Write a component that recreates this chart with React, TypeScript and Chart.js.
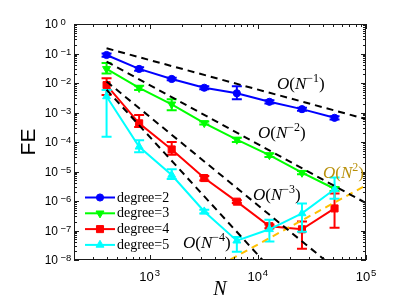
import React, { useEffect, useRef } from 'react';
import { Chart, registerables } from 'chart.js';

Chart.register(...registerables);

// ---------- data ----------
const sizes = [400, 800, 1600, 3200, 6400, 12800, 25600, 51200];

const deg2 = [0.089, 0.030, 0.0137, 0.0069, 0.0045, 0.0023, 0.0013, 6.6e-4];
const deg2Lo = [0.078, 0.026, 0.0124, 0.0061, 0.0028, 0.0020, 0.00115, 5.8e-4];
const deg2Hi = [0.100, 0.034, 0.0151, 0.0078, 0.0078, 0.0026, 0.00145, 7.4e-4];

const deg3 = [0.030, 0.0068, 0.0019, 4.4e-4, 1.2e-4, 3.6e-5, 9.1e-6, 2.6e-6];
const deg3Lo = [0.021, 0.0058, 0.0012, 3.9e-4, 1.0e-4, 3.1e-5, 8.0e-6, 2.2e-6];
const deg3Hi = [0.048, 0.0080, 0.0028, 5.0e-4, 1.4e-4, 4.1e-5, 1.03e-5, 3.0e-6];

const deg4 = [0.0085, 4.3e-4, 5.6e-5, 6.0e-6, 9.5e-7, 1.4e-7, 1.1e-7, 5.6e-7];
const deg4Lo = [0.0039, 3.2e-4, 3.7e-5, 5.0e-6, 8.5e-7, 1.2e-7, 2.4e-8, 1.25e-7];
const deg4Hi = [0.0144, 8.3e-4, 1.0e-4, 7.0e-6, 1.05e-6, 1.6e-7, 2.0e-7, 1.8e-6];

const deg5 = [0.0035, 6.9e-5, 7.6e-6, 4.4e-7, 4.5e-8, 1.1e-7, 3.8e-7, 2.5e-6];
const deg5Lo = [1.5e-4, 4.5e-5, 5.6e-6, 3.8e-7, 1.9e-8, 4.2e-8, 9.1e-8, 1.2e-6];
const deg5Hi = [0.0058, 1.15e-4, 1.2e-5, 5.1e-7, 6.0e-8, 2.3e-7, 8.3e-7, 6.3e-6];

// reference slopes (two end points each)
const refN = [400, 100000];
const refOrder1 = [0.15, 6.0e-4];
const refOrder2 = [0.053, 8.5e-7];
const refOrder3 = [0.01125, 7.2e-10];
const refOrder4 = [0.0059, 1.5e-12];
const refGrowN = [5600, 100000];
const refGrow2 = [1.05e-8, 3.4e-6];

// ticks
const yTickExps = [0, -1, -2, -3, -4, -5, -6, -7, -8];
const xTickExps = [3, 4, 5];

const legendLabels = ['degree=2', 'degree=3', 'degree=4', 'degree=5'];

const SANS = '"Liberation Sans", Arial, sans-serif';
const SERIF = '"Liberation Serif", "Times New Roman", serif';

const pts = (xs: number[], ys: number[]) => xs.map((x, i) => ({ x, y: ys[i] }));

function drawMarker(ctx: CanvasRenderingContext2D, style: string, rot: number, x: number, y: number, r: number, color: string) {
  ctx.save();
  ctx.fillStyle = color;
  ctx.strokeStyle = color;
  ctx.lineWidth = 1;
  ctx.beginPath();
  if (style === 'circle') {
    ctx.arc(x, y, r, 0, Math.PI * 2);
  } else if (style === 'rect') {
    const s = r * Math.SQRT1_2;
    ctx.rect(x - s, y - s, 2 * s, 2 * s);
  } else {
    let a = (rot * Math.PI) / 180;
    ctx.moveTo(x + Math.sin(a) * r, y - Math.cos(a) * r);
    a += (2 * Math.PI) / 3;
    ctx.lineTo(x + Math.sin(a) * r, y - Math.cos(a) * r);
    a += (2 * Math.PI) / 3;
    ctx.lineTo(x + Math.sin(a) * r, y - Math.cos(a) * r);
    ctx.closePath();
  }
  ctx.fill();
  ctx.stroke();
  ctx.restore();
}

type Part = { t: string; font: string; dy: number };

function richWidth(ctx: CanvasRenderingContext2D, parts: Part[]) {
  let w = 0;
  for (const p of parts) {
    ctx.font = p.font;
    w += ctx.measureText(p.t).width;
  }
  return w;
}

function drawRich(ctx: CanvasRenderingContext2D, parts: Part[], x: number, y: number, color: string) {
  ctx.save();
  ctx.fillStyle = color;
  ctx.textAlign = 'left';
  ctx.textBaseline = 'alphabetic';
  let cx = x;
  for (const p of parts) {
    ctx.font = p.font;
    ctx.fillText(p.t, cx, y + p.dy);
    cx += ctx.measureText(p.t).width;
  }
  ctx.restore();
}

function orderParts(sup: string): Part[] {
  const fs = 17;
  return [
    { t: 'O', font: `italic ${fs}px ${SERIF}`, dy: 0 },
    { t: '(', font: `${fs}px ${SERIF}`, dy: 0 },
    { t: 'N', font: `italic ${fs}px ${SERIF}`, dy: 0 },
    { t: sup, font: `12px ${SERIF}`, dy: -7 },
    { t: ')', font: `${fs}px ${SERIF}`, dy: 0 },
  ];
}

const decorPlugin = {
  id: 'decor',
  beforeDatasetDraw(chart: any, args: any) {
    const ds = chart.data.datasets[args.index];
    if (!ds.errLo) return;
    const ctx = chart.ctx as CanvasRenderingContext2D;
    const xs = chart.scales.x;
    const ys = chart.scales.y;
    ctx.save();
    ctx.strokeStyle = ds.borderColor;
    ctx.lineWidth = 2;
    ds.data.forEach((p: any, i: number) => {
      const px = xs.getPixelForValue(p.x);
      const y1 = ys.getPixelForValue(ds.errLo[i]);
      const y2 = ys.getPixelForValue(ds.errHi[i]);
      ctx.beginPath();
      ctx.moveTo(px, y1);
      ctx.lineTo(px, y2);
      ctx.moveTo(px - 5, y1);
      ctx.lineTo(px + 5, y1);
      ctx.moveTo(px - 5, y2);
      ctx.lineTo(px + 5, y2);
      ctx.stroke();
    });
    ctx.restore();
  },
  afterDraw(chart: any) {
    const ctx = chart.ctx as CanvasRenderingContext2D;
    const a = chart.chartArea;
    const xs = chart.scales.x;
    const ys = chart.scales.y;
    ctx.save();
    // box
    ctx.strokeStyle = '#1a1a1a';
    ctx.lineWidth = 1;
    ctx.strokeRect(Math.round(a.left) + 0.5, Math.round(a.top) + 0.5, Math.round(a.right - a.left) - 1, Math.round(a.bottom - a.top) - 1);
    // y ticks
    ctx.beginPath();
    for (let e = -8; e <= 0; e++) {
      for (let k = 1; k <= 9; k++) {
        const v = k * Math.pow(10, e);
        if (v > 1.0000001) break;
        const py = Math.round(ys.getPixelForValue(v)) + 0.5;
        const len = k === 1 ? 5 : 3;
        ctx.moveTo(a.left, py);
        ctx.lineTo(a.left + len, py);
        ctx.moveTo(a.right, py);
        ctx.lineTo(a.right - len, py);
      }
    }
    // x ticks
    for (let e = 2; e <= 5; e++) {
      for (let k = 1; k <= 9; k++) {
        const v = k * Math.pow(10, e);
        if (v < 199.999 || v > 100000.001) continue;
        const px = Math.round(xs.getPixelForValue(v)) + 0.5;
        const len = k === 1 ? 5 : 3;
        ctx.moveTo(px, a.bottom);
        ctx.lineTo(px, a.bottom - len);
        ctx.moveTo(px, a.top);
        ctx.lineTo(px, a.top + len);
      }
    }
    ctx.stroke();

    // y tick labels
    ctx.fillStyle = '#000';
    yTickExps.forEach((e) => {
      const py = ys.getPixelForValue(Math.pow(10, e));
      ctx.font = `12px ${SANS}`;
      ctx.textAlign = 'right';
      ctx.textBaseline = 'alphabetic';
      ctx.fillText('10', a.left - 16, py + 4.3);
      ctx.textAlign = 'left';
      ctx.font = `9.5px ${SANS}`;
      ctx.fillText(String(e).replace('-', '−'), a.left - 13.5, py + 1);
    });
    // x tick labels
    xTickExps.forEach((e) => {
      const px = xs.getPixelForValue(Math.pow(10, e));
      const parts: Part[] = [
        { t: '10', font: `13px ${SANS}`, dy: 0 },
        { t: ' ', font: `3px ${SANS}`, dy: 0 },
        { t: String(e), font: `9.5px ${SANS}`, dy: -5.5 },
      ];
      const w = richWidth(ctx, parts);
      drawRich(ctx, parts, px - w / 2, a.bottom + 21, '#000');
    });

    // axis titles
    ctx.fillStyle = '#000';
    ctx.font = `italic 20px ${SERIF}`;
    ctx.textAlign = 'center';
    ctx.textBaseline = 'middle';
    ctx.fillText('N', (a.left + a.right) / 2, 290);
    ctx.save();
    ctx.translate(29.5, (a.top + a.bottom) / 2);
    ctx.rotate(-Math.PI / 2);
    ctx.font = `21px ${SANS}`;
    ctx.fillText('FE', 0, 0);
    ctx.restore();

    // order labels
    drawRich(ctx, orderParts('−1'), 277, 89, '#000');
    drawRich(ctx, orderParts('−2'), 258, 137.5, '#000');
    drawRich(ctx, orderParts('−3'), 253, 200, '#000');
    drawRich(ctx, orderParts('−4'), 183, 247.5, '#000');
    drawRich(ctx, orderParts('2'), 323, 177.5, '#b8900a');

    // legend
    const dsets = chart.data.datasets.filter((d: any) => d.errLo);
    dsets.sort((p: any, q: any) => p.legendIndex - q.legendIndex);
    dsets.forEach((d: any, i: number) => {
      const y = 197.5 + i * 15.8;
      ctx.strokeStyle = d.borderColor;
      ctx.lineWidth = 2;
      ctx.beginPath();
      ctx.moveTo(85, y);
      ctx.lineTo(115, y);
      ctx.stroke();
      drawMarker(ctx, d.pointStyle, d.pointRotation || 0, 100, y, d.pointRadius, d.borderColor);
      ctx.fillStyle = '#000';
      ctx.font = `14px ${SERIF}`;
      ctx.textAlign = 'left';
      ctx.textBaseline = 'middle';
      ctx.fillText(legendLabels[d.legendIndex], 117, y + 0.5);
    });
    ctx.restore();
  },
};

export default function App() {
  const ref = useRef<HTMLCanvasElement | null>(null);
  useEffect(() => {
    if (!ref.current) return;
    const dashed = (data: any[], color: string, order: number) => ({
      data,
      borderColor: color,
      backgroundColor: color,
      borderWidth: 2,
      borderDash: [7, 5],
      pointRadius: 0,
      fill: false,
      order,
    });
    const series = (vals: number[], lo: number[], hi: number[], color: string, style: string, rot: number, r: number, order: number, legendIndex: number) => ({
      data: pts(sizes, vals),
      errLo: lo,
      errHi: hi,
      borderColor: color,
      backgroundColor: color,
      borderWidth: 2,
      pointStyle: style,
      pointRotation: rot,
      pointRadius: r,
      pointBorderWidth: 1,
      pointBackgroundColor: color,
      pointBorderColor: color,
      fill: false,
      order,
      legendIndex,
    });
    const chart = new Chart(ref.current, {
      type: 'line',
      data: {
        datasets: [
          dashed(pts(refN, refOrder1), '#000', 0),
          dashed(pts(refN, refOrder2), '#000', 0),
          dashed(pts(refN, refOrder3), '#000', 0),
          dashed(pts(refN, refOrder4), '#000', 0),
          dashed(pts(refGrowN, refGrow2), '#ffc000', 0),
          series(deg5, deg5Lo, deg5Hi, '#00ffff', 'triangle', 0, 4.6, 1, 3),
          series(deg4, deg4Lo, deg4Hi, '#ff0000', 'rect', 0, 5, 2, 2),
          series(deg3, deg3Lo, deg3Hi, '#00ff00', 'triangle', 180, 4.6, 3, 1),
          series(deg2, deg2Lo, deg2Hi, '#0000ff', 'circle', 0, 3.6, 4, 0),
        ] as any,
      },
      options: {
        animation: false,
        responsive: true,
        maintainAspectRatio: false,
        events: [],
        layout: { padding: { left: 0, top: 24, right: 49, bottom: 0 } },
        plugins: { legend: { display: false }, tooltip: { enabled: false } },
        scales: {
          x: {
            type: 'logarithmic',
            min: 200,
            max: 100000,
            grid: { display: false },
            border: { display: false },
            ticks: { display: false },
            afterFit: (s: any) => { s.height = 45; },
          },
          y: {
            type: 'logarithmic',
            min: 1e-8,
            max: 1,
            grid: { display: false },
            border: { display: false },
            ticks: { display: false },
            afterFit: (s: any) => { s.width = 74; },
          },
        },
      } as any,
      plugins: [decorPlugin],
    });
    return () => chart.destroy();
  }, []);
  return (
    <div style={{ position: 'absolute', left: 0, top: 0, width: 415, height: 305, background: '#fff' }}>
      <canvas ref={ref} />
    </div>
  );
}
